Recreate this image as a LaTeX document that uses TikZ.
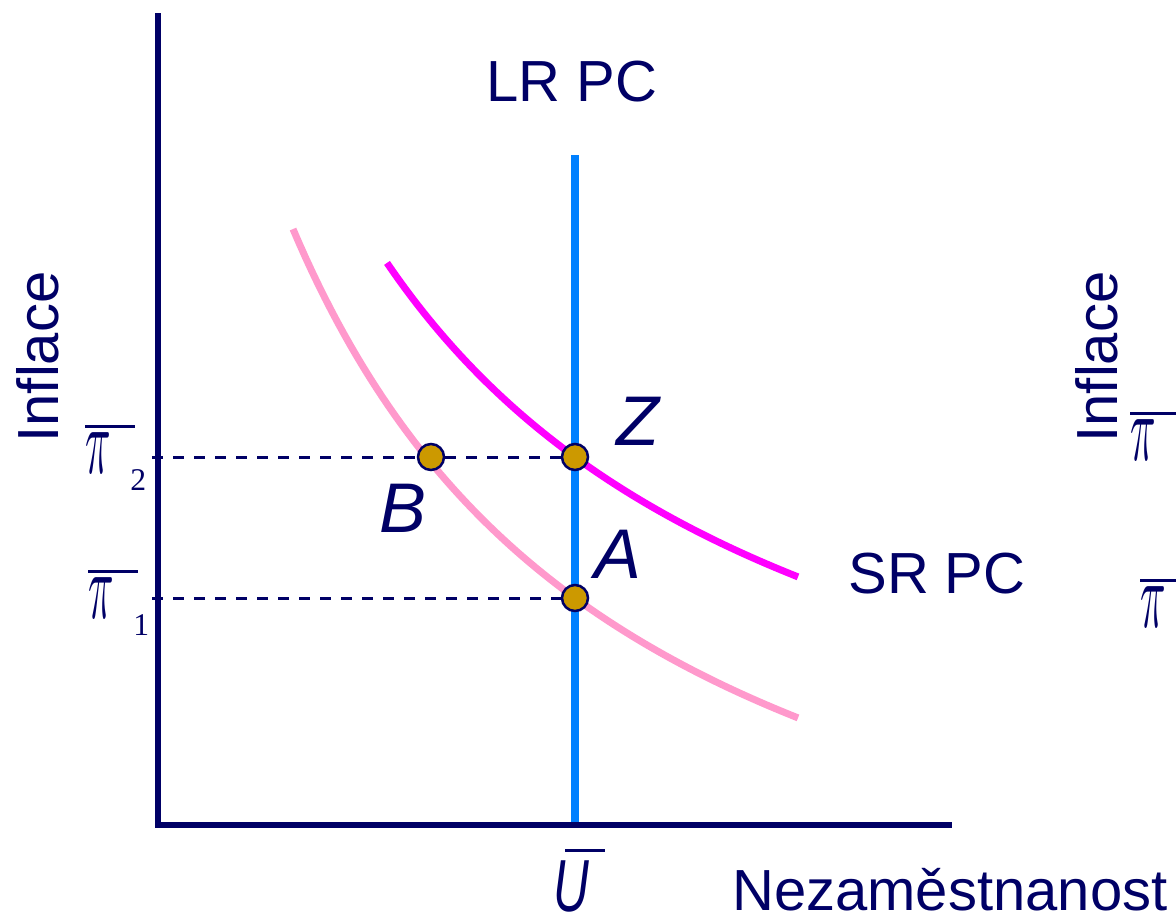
\documentclass[tikz,border=0pt]{standalone}
\usepackage{fontspec}
\setmainfont{Liberation Sans}
\newfontfamily\pifont{Liberation Serif}
\usepackage{graphicx}
\usepackage{xcolor}
\usetikzlibrary{positioning}
\definecolor{axisnavy}{RGB}{0,0,102}
\definecolor{lrblue}{RGB}{0,128,255}
\definecolor{srmagenta}{RGB}{255,0,255}
\definecolor{srpink}{RGB}{255,153,204}
\definecolor{dotgold}{RGB}{204,153,0}
\newlength{\px}\setlength{\px}{0.02cm}
% barred pi with an index
\newcommand{\pibar}[1]{%
  \makebox[0pt][l]{\raisebox{45\px}{\rule{50\px}{3\px}}}%
  \makebox[45\px][l]{\scalebox{2.4}[5.4]{$\pi$}}%
  \raisebox{-17\px}{\fontsize{18}{20}\selectfont\pifont #1}}
\newcommand{\ubar}{%
  \makebox[0pt][l]{\hspace{12\px}\raisebox{59\px}{\rule{40\px}{3\px}}}%
  \scalebox{0.67}[1]{\fontsize{42}{46}\selectfont\itshape U}}
\tikzset{
  axisline/.style={draw=axisnavy,line width=6\px},
  guide/.style={draw=axisnavy,line width=3\px,dash pattern=on 11\px off 10\px},
  lrline/.style={draw=lrblue,line width=8\px},
  srnew/.style={draw=srmagenta,line width=7\px},
  srold/.style={draw=srpink,line width=7\px},
  eqdot/.style={circle,draw=axisnavy,fill=dotgold,line width=2.5\px,minimum size=26\px,inner sep=0pt},
  curvelabel/.style={text=axisnavy,font=\fontsize{33}{36}\selectfont,inner sep=0pt},
  pointlabel/.style={text=axisnavy,font=\fontsize{40}{44}\selectfont\itshape,inner sep=0pt},
  ticklabel/.style={text=axisnavy,inner sep=0pt,anchor=base west}
}
\begin{document}
\begin{tikzpicture}[x=0.02cm,y=-0.02cm]
  \useasboundingbox (0,0) rectangle (1176,920);
  \clip (0,0) rectangle (1176,920);
  % axes
  \coordinate (ytop) at (158,13);
  \coordinate (origin) at (158,825);
  \coordinate (xend) at (952,825);
  \draw[axisline] (ytop) -- (origin) -- (xend);
  \node[curvelabel,rotate=90,anchor=base] (ylab) at (58,357) {Inflace};
  \node[curvelabel,anchor=base west] (xlab) at (732,910) {Nezaměstnanost};
  % curves
  \draw[srold] plot[domain=293:798,samples=80] (\x,{1058.6-2920/((\x+59)/100)});
  \draw[srnew] plot[domain=387:798,samples=80] (\x,{917.6-2920/((\x+59)/100)});
  \coordinate (lrtop) at (575,155);
  \coordinate (lrbot) at (575,822);
  \draw[lrline] (lrtop) -- (lrbot);
  \node[curvelabel,anchor=base] (lrlab) at (572,101) {LR PC};
  \node[curvelabel,anchor=base west] (srlab) at (848,593) {SR PC};
  % equilibria
  \coordinate (tick2) at (152,457);
  \coordinate (tick1) at (152,598);
  \node[eqdot] (B) at (431,457) {};
  \node[eqdot] (Z) at (575,457) {};
  \node[eqdot] (A) at (575,598) {};
  \draw[guide] (tick2) -- (B);
  \draw[guide] (B) -- (Z);
  \draw[guide] (tick1) -- (A);
  \node[pointlabel,anchor=base west] (Zlab) at (616,445) {Z};
  \node[pointlabel,anchor=base west] (Blab) at (379,532) {B};
  \node[pointlabel,anchor=base west] (Alab) at (594,578) {A};
  \node[ticklabel] (pi2) at (85,473) {\pibar{2}};
  \node[ticklabel] (pi1) at (88,618) {\pibar{1}};
  \node[ticklabel] (ustar) at (553,911) {\ubar};
  % next panel, cut off
  \node[curvelabel,rotate=90,anchor=base] (ylabR) at (1117,357) {Inflace};
  \node[ticklabel] (pi2R) at (1130,460) {\pibar{}};
  \node[ticklabel] (pi1R) at (1140,627) {\pibar{}};
\end{tikzpicture}
\end{document}
